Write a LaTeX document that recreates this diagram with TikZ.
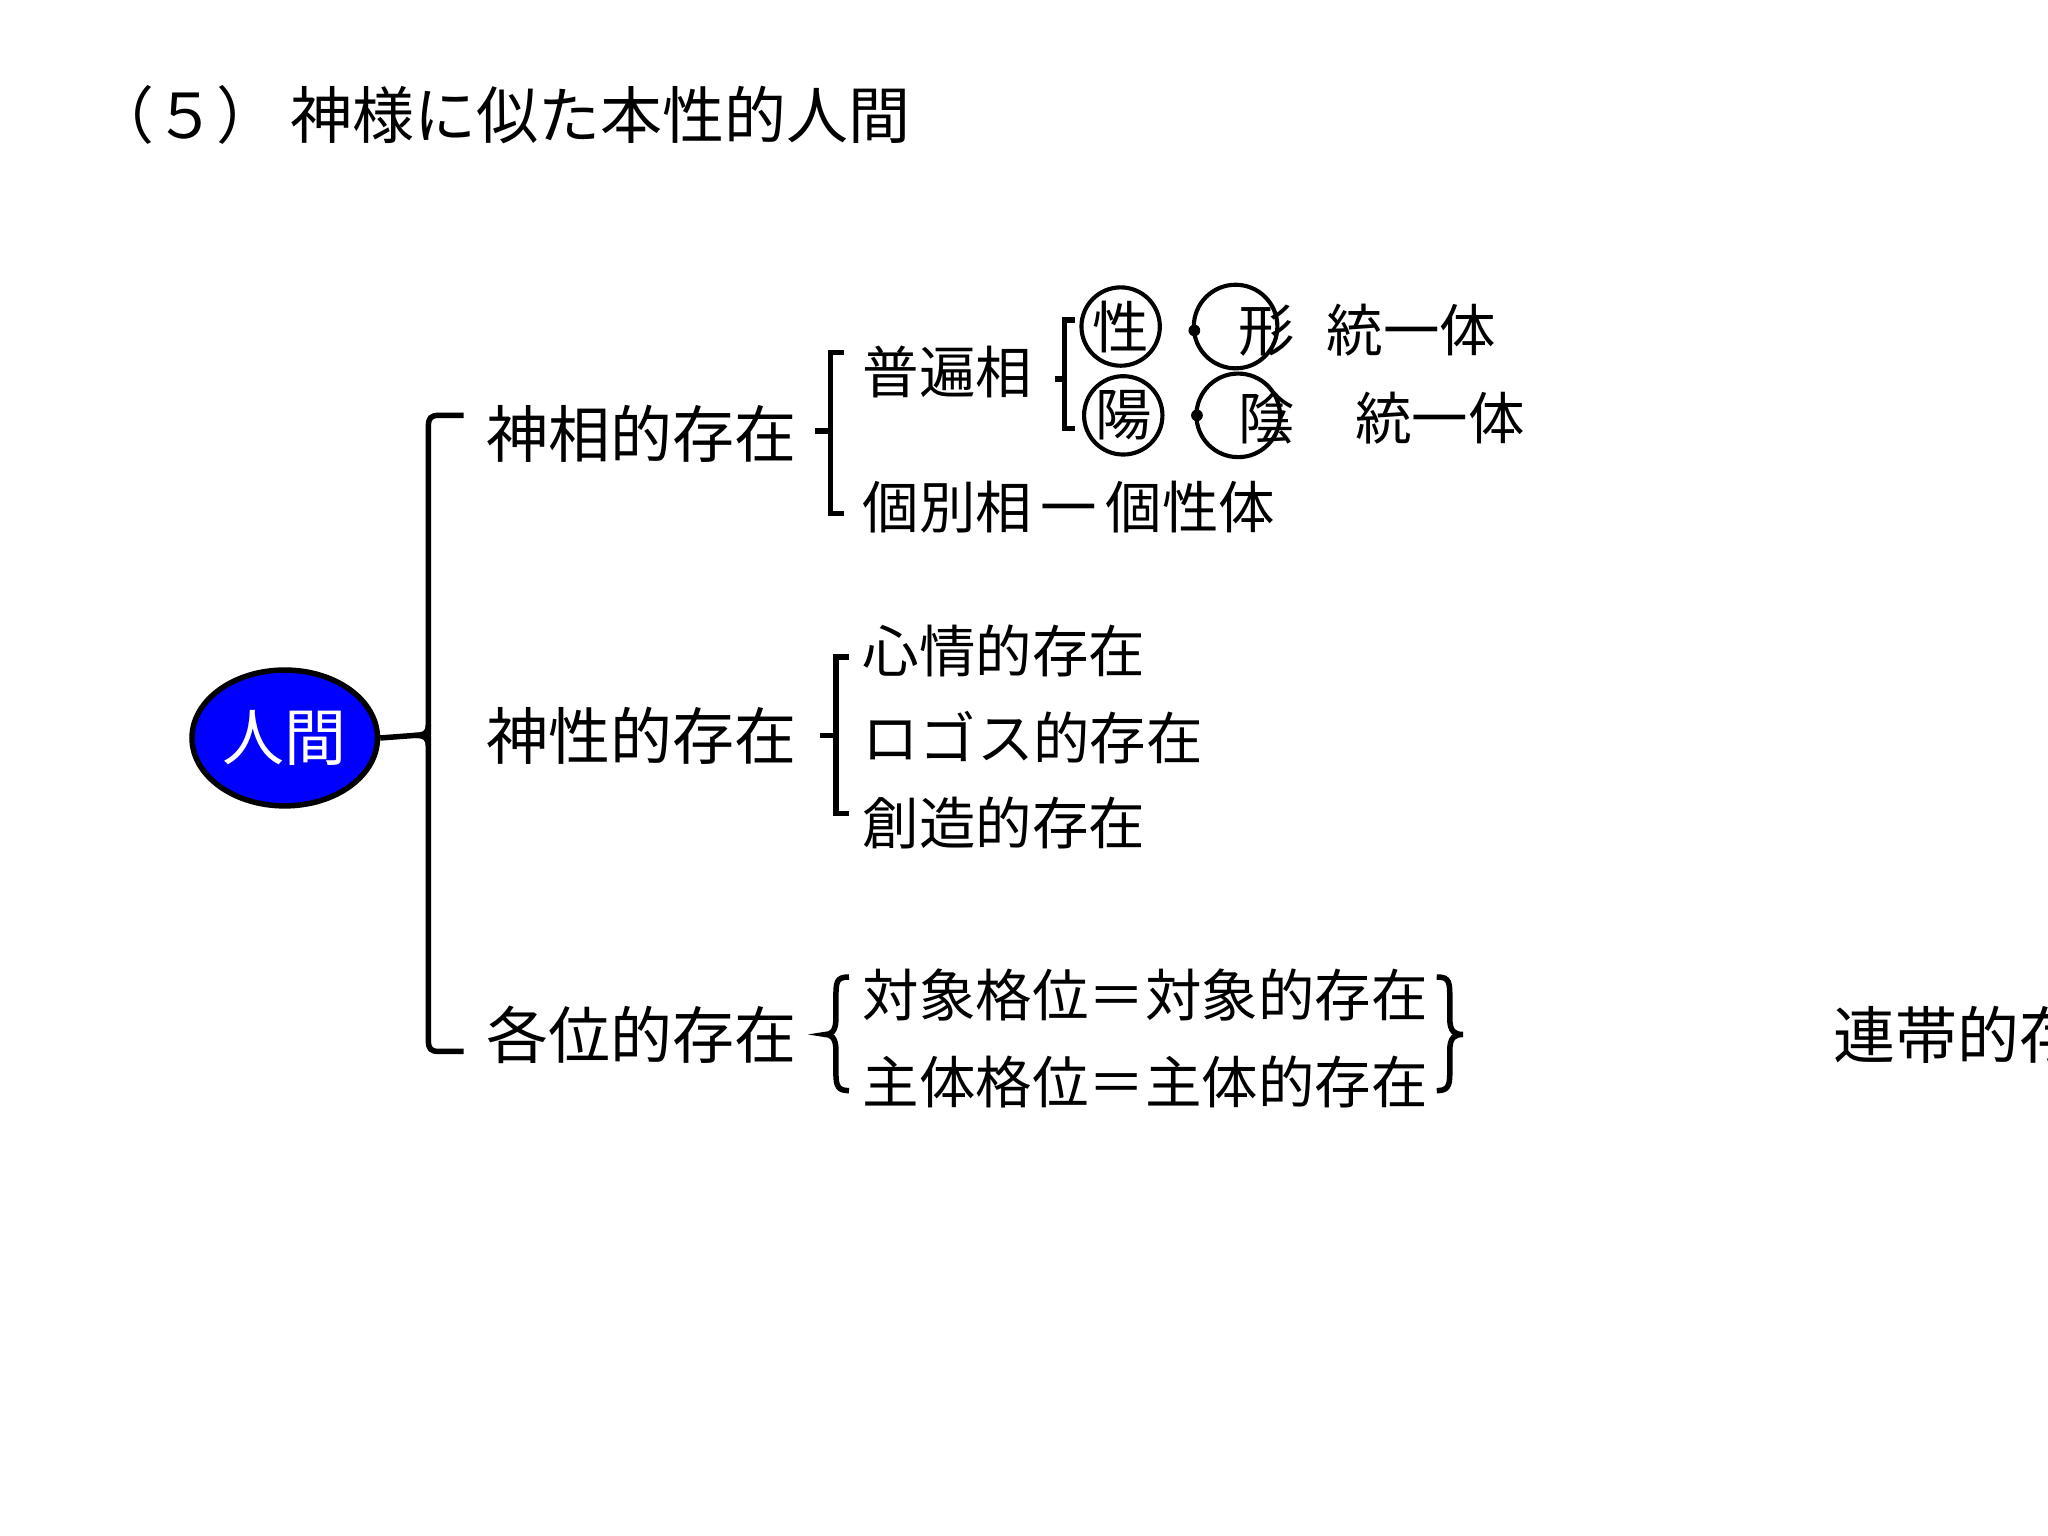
\documentclass[tikz,border=0pt]{standalone}
\usepackage{fontspec}
\usetikzlibrary{shapes.geometric}
\setmainfont{Noto Sans CJK JP}
\begin{document}
\begin{tikzpicture}[x=0.1mm,y=-0.1mm,
  big/.style={anchor=west,inner sep=0,font=\fontsize{13.5pt}{14pt}\selectfont},
  sub/.style={anchor=west,inner sep=0,font=\fontsize{12.3pt}{13pt}\selectfont},
  br/.style={draw,line width=1.2pt},
  ring/.style={draw,line width=0.9pt,circle,inner sep=0}]
\path[use as bounding box] (0,0) rectangle (1568,1176);
\clip (0,0) rectangle (1568,1176);
\node[big] (title) at (70,88) {（５）\hspace{0.2em}神様に似た本性的人間};
\node[ellipse,draw,line width=1.2pt,fill=blue,inner sep=0,minimum width=14.2mm,minimum height=10.4mm,text=white,font=\fontsize{13.5pt}{14pt}\selectfont] (human) at (218,565) {人間};
% big bracket
\draw[br] (355,318) -- (336,318) .. controls (330,318) and (328,320) .. (328,326) -- (328,797) .. controls (328,803) and (330,805) .. (336,805) -- (355,805);
\draw[br] (human.east) -- (318,563) .. controls (326,563) and (328,560) .. (328,555);
\draw[br] (318,563) .. controls (326,563) and (328,566) .. (328,571);
\node[big] (a) at (372,332) {神相的存在};
\node[big] (b) at (372,563) {神性的存在};
\node[big] (c) at (372,792) {各位的存在};
% bracket a
\draw[br] (646,270) -- (636,270) -- (636,393) -- (646,393);
\draw[br] (624,330) -- (636,330);
\node[sub] (fu) at (660,285) {普遍相};
\node[sub] (ko) at (660,388) {個別相\hspace{0.15em}一\hspace{0.15em}個性体};
% bracket fu
\draw[br] (823,245) -- (815,245) -- (815,328) -- (823,328);
\draw[br] (808,290) -- (815,290);
\node[ring,minimum size=6mm,sub,anchor=center] (sei) at (858,250) {性};
\node[ring,minimum size=6mm,sub,anchor=center] (yo) at (860,318) {陽};
\node[ring,minimum size=6.4mm] (c1) at (946,250) {};
\node[ring,minimum size=6.4mm] (c2) at (948,318) {};
\fill (c1.west) ++(2,3) circle (4.5);
\fill (c2.west) ++(2,0) circle (4.5);
\node[sub,anchor=center] (kei) at (970,253) {形};
\node[sub,anchor=center] (in) at (970,320) {陰};
\node[sub] (t1) at (1015,253) {統一体};
\node[sub] (t2) at (1037,320) {統一体};
% bracket b
\draw[br] (650,503) -- (640,503) -- (640,623) -- (650,623);
\draw[br] (628,563) -- (640,563);
\node[sub] (s1) at (660,498) {心情的存在};
\node[sub] (s2) at (660,565) {ロゴス的存在};
\node[sub] (s3) at (660,630) {創造的存在};
% curly braces c
\draw[br] (650,748) .. controls (640,748) and (640,752) .. (640,765) -- (640,780) .. controls (640,790) and (636,792) .. (632,792) .. controls (636,792) and (640,794) .. (640,804) -- (640,822) .. controls (640,832) and (642,835) .. (650,835);
\draw[br] (1100,748) .. controls (1110,748) and (1110,752) .. (1110,765) -- (1110,780) .. controls (1110,790) and (1114,792) .. (1120,792) .. controls (1114,792) and (1110,794) .. (1110,804) -- (1110,822) .. controls (1110,832) and (1108,835) .. (1100,835);
\node[sub] (o1) at (660,762) {対象格位＝対象的存在};
\node[sub] (o2) at (660,828) {主体格位＝主体的存在};
\node[big] (ren) at (1403,792) {連帯的存在};
\end{tikzpicture}
\end{document}
